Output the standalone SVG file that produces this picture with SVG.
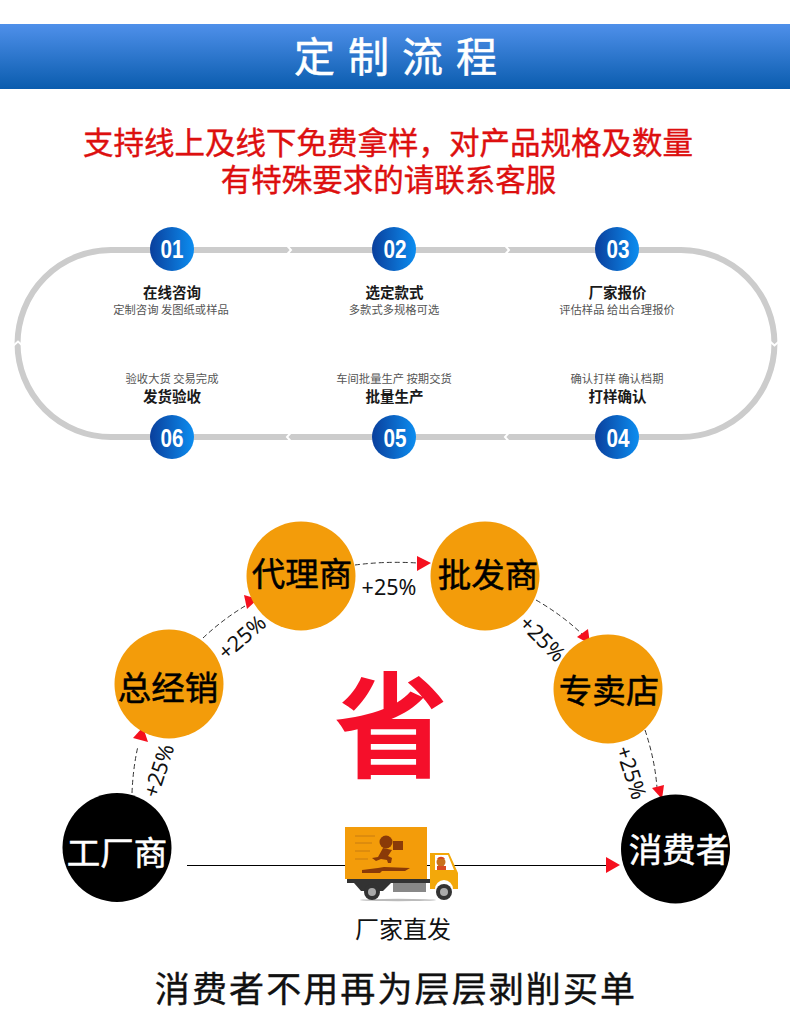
<svg xmlns="http://www.w3.org/2000/svg" width="790" height="1030" viewBox="0 0 790 1030">
<style>
text{font-family:"Noto Sans CJK SC","Liberation Sans",sans-serif;text-anchor:middle}
.t{font-size:14.5px;font-weight:700;fill:#1a1a1a}
.s{font-size:11.3px;fill:#555}
.n{font-family:"Liberation Sans","Noto Sans CJK SC",sans-serif;font-size:26px;font-weight:700;fill:#fff}
.c{font-size:33.500px;fill:#000;stroke:#000;stroke-width:.5}
.w{font-size:33.500px;fill:#fff;stroke:#fff;stroke-width:.5}
.p{font-family:"Noto Sans","Liberation Sans",sans-serif;font-size:21.500px;fill:#111}
.track{fill:none;stroke:#cccccc;stroke-width:6}
.gap{fill:none;stroke:#fff;stroke-width:2}
.dash{fill:none;stroke:#333;stroke-width:1;stroke-dasharray:5 3}
.ar{fill:#f5101e}
.red{font-size:30.500px;fill:#dd0f0f;stroke:#dd0f0f;stroke-width:.4}
</style>
<defs>
<linearGradient id="bar" x1="0" y1="0" x2="0" y2="1"><stop offset="0" stop-color="#4f90ea"/><stop offset="1" stop-color="#0a5cae"/></linearGradient>
<linearGradient id="ball" x1="0" y1="0" x2="1" y2="0"><stop offset="0" stop-color="#0a3f9c"/><stop offset="1" stop-color="#0c8df0"/></linearGradient>
</defs>
<rect width="790" height="1030" fill="#fff"/>
<g id="header"><rect y="24" width="790" height="65" fill="url(#bar)"/>
<text x="402" y="72" style="font-size:41px;fill:#fff;stroke:#fff;stroke-width:.5;letter-spacing:13px">定制流程</text></g>
<g id="intro"><text class="red" x="388" y="154">支持线上及线下免费拿样，对产品规格及数量</text>
<text class="red" x="388.500" y="191">有特殊要求的请联系客服</text></g>
<g id="connectors">
<path class="track" d="M111 250H681A93.500 93.500 0 0 1 681 437H111A93.500 93.500 0 0 1 111 250Z"/>
<path class="gap" d="M287 245.500L291 250 287 254.500M505 245.500L509 250 505 254.500"/>
<path class="gap" d="M291 432.500L287 437 291 441.500M509 432.500L505 437 509 441.500"/>
<path class="gap" d="M13 346L18 341.500 23 346M769.500 341L774.500 345.500 779.500 341"/>
<path class="dash" d="M132 793Q133 768 138 746"/>
<path class="dash" d="M203 638Q222 620 245 606"/>
<path class="dash" d="M355 565Q385 561 418 563"/>
<path class="dash" d="M536 600Q562 615 582 634"/>
<path class="dash" d="M645 730Q655 760 657 788"/>
<polygon class="ar" points="143,727 133,738 148,742"/>
<polygon class="ar" points="258,599 244,595 247,609"/>
<polygon class="ar" points="431,563 417,556 417,571"/>
<polygon class="ar" points="590,644 577,637 588,629"/>
<polygon class="ar" points="662,799 652,788 664,785"/>
<path d="M187 865.500H608" fill="none" stroke="#000" stroke-width="1"/>
<polygon class="ar" points="620,865 606,857 606,873"/>
</g>
<g id="s1"><circle cx="172" cy="249" r="22" fill="url(#ball)"/><text class="n" x="172" y="258" textLength="23" lengthAdjust="spacingAndGlyphs">01</text><text class="t" x="172" y="297.500">在线咨询</text><text class="s" x="171" y="314">定制咨询 发图纸或样品</text></g>
<g id="s2"><circle cx="394" cy="249" r="22" fill="url(#ball)"/><text class="n" x="395" y="258" textLength="23" lengthAdjust="spacingAndGlyphs">02</text><text class="t" x="394.500" y="297.500">选定款式</text><text class="s" x="394" y="314">多款式多规格可选</text></g>
<g id="s3"><circle cx="617" cy="249" r="22" fill="url(#ball)"/><text class="n" x="618" y="258" textLength="23" lengthAdjust="spacingAndGlyphs">03</text><text class="t" x="617.500" y="297.500">厂家报价</text><text class="s" x="617" y="314">评估样品 给出合理报价</text></g>
<g id="s4"><circle cx="617" cy="437" r="22" fill="url(#ball)"/><text class="n" x="618" y="447" textLength="23" lengthAdjust="spacingAndGlyphs">04</text><text class="t" x="617.500" y="401.500">打样确认</text><text class="s" x="617" y="383">确认打样 确认档期</text></g>
<g id="s5"><circle cx="394" cy="437" r="22" fill="url(#ball)"/><text class="n" x="395" y="447" textLength="23" lengthAdjust="spacingAndGlyphs">05</text><text class="t" x="394.500" y="401.500">批量生产</text><text class="s" x="394" y="383">车间批量生产 按期交货</text></g>
<g id="s6"><circle cx="172" cy="437" r="22" fill="url(#ball)"/><text class="n" x="172" y="447" textLength="23" lengthAdjust="spacingAndGlyphs">06</text><text class="t" x="172" y="401.500">发货验收</text><text class="s" x="172" y="383">验收大货 交易完成</text></g>
<g id="n-factory"><circle cx="117" cy="847.500" r="54.500" fill="#000"/><text class="w" x="117" y="865">工厂商</text></g>
<g id="n-dist"><circle cx="169" cy="684" r="54.500" fill="#f39c0a"/><text class="c" x="168" y="700">总经销</text></g>
<g id="n-agent"><circle cx="301" cy="576" r="54.500" fill="#f39c0a"/><text class="c" x="302" y="586">代理商</text></g>
<g id="n-whole"><circle cx="485" cy="576" r="54.500" fill="#f39c0a"/><text class="c" x="488" y="587">批发商</text></g>
<g id="n-shop"><circle cx="608" cy="689" r="54.500" fill="#f39c0a"/><text class="c" x="609" y="703">专卖店</text></g>
<g id="n-consumer"><circle cx="675.500" cy="849" r="54.500" fill="#000"/><text class="w" x="679" y="862">消费者</text></g>
<g id="labels">
<text class="p" x="389" y="595">+25%</text>
<text class="p" transform="translate(166 773) rotate(-72)">+25%</text>
<text class="p" transform="translate(247 643) rotate(-41)">+25%</text>
<text class="p" transform="translate(537 644) rotate(45)">+25%</text>
<text class="p" transform="translate(624 775) rotate(72)">+25%</text>
</g>
<g id="save"><text x="391" y="768" style="font-size:114px;font-weight:700;fill:#f50f2a">省</text></g>
<g id="truck">
<ellipse cx="398" cy="900" rx="38" ry="1.200" fill="#bbb"/>
<rect x="345" y="827" width="82" height="52" fill="#f39c0a"/>
<path d="M355 836H375M355 843H372M355 851H370M355 859H368" stroke="#c87c10" stroke-width="1" fill="none"/>
<g fill="#8a3a08"><circle cx="386" cy="842" r="6.500"/><rect x="393" y="841" width="10" height="9"/><path d="M372 858L378 857 383 848 392 850 388 856 392 858 391 863H388L387 860 381 859 376 861Z"/><path d="M362 870L378 868 384 867 410 868 405 871 382 871 380 873H362Z"/></g>
<rect x="347" y="879" width="83" height="4" fill="#333"/>
<rect x="393" y="883" width="33" height="9" fill="#888"/>
<path d="M430 853H449L458 873V889H453A9 9 0 0 0 435 889H430Z" fill="#f3a80a"/><path d="M435 855H448L454 870H435Z" fill="#fff"/><circle cx="441" cy="862" r="4.500" fill="#c8701c"/><path d="M437 859A4.500 4 0 0 1 445 859Z" fill="#d84a20"/><rect x="437" y="866" width="9" height="4" fill="#d84a20"/>
<path d="M354 883L361 891H383L391 883Z" fill="#333"/><circle cx="372" cy="892" r="8" fill="#333"/><circle cx="372" cy="892" r="4" fill="#aaa"/><circle cx="444" cy="892" r="8" fill="#333"/><circle cx="444" cy="892" r="4" fill="#aaa"/>
</g>
<g id="foot"><text x="403" y="938" style="font-size:24px;fill:#111">厂家直发</text>
<text x="396" y="1002" style="font-size:35px;fill:#111;stroke:#111;stroke-width:.4;letter-spacing:2.100px">消费者不用再为层层剥削买单</text></g>
</svg>
